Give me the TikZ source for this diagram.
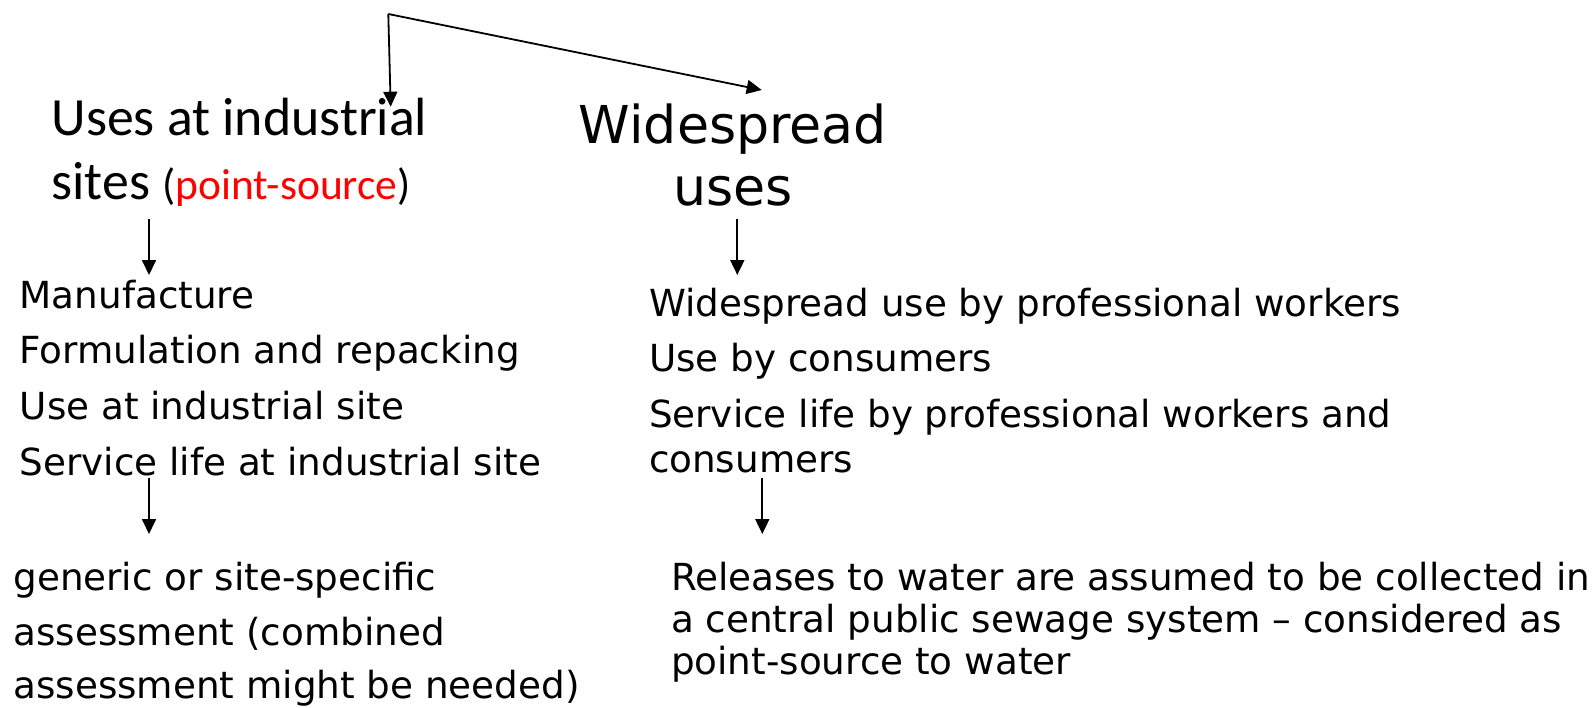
\documentclass[tikz,border=0pt]{standalone}
\usepackage{fontspec}
\setmainfont{DejaVu Sans}
\newfontfamily\calibfont{Carlito}
\usetikzlibrary{arrows.meta}
\definecolor{srcred}{RGB}{255,0,0}
\tikzset{
  txt/.style={anchor=base west, inner sep=0pt, outer sep=0pt, font=\fontsize{37.3}{46}\selectfont},
  headL/.style={anchor=base west, inner sep=0pt, outer sep=0pt, font=\calibfont\fontsize{53.8}{62}\selectfont},
  headR/.style={anchor=base, inner sep=0pt, outer sep=0pt, font=\fontsize{52.2}{59}\selectfont},
  arr/.style={line width=1.8pt, -{Triangle[length=15pt,width=14pt]}}
}
\begin{document}
\begin{tikzpicture}[x=1pt,y=-1pt]
\useasboundingbox (0,0) rectangle (1593,707);
% headings
\node[headL] (t1) at (51.5,135.5) {Uses at industrial};
\node[headL] (t2) at (51.5,199) {sites {\fontsize{43.5}{50}\selectfont(\textcolor{srcred}{point-source})}};
\node[headR] (w1) at (733,143.5) {Widespread};
\node[headR] (w2) at (733,205) {uses};
% left list
\node[txt] (l1) at (19.7,308.3) {Manufacture};
\node[txt] (l2) at (19.7,363.9) {Formulation and repacking};
\node[txt] (l3) at (19.7,419.5) {Use at industrial site};
\node[txt] (l4) at (19.7,475.1) {Service life at industrial site};
% right list
\node[txt] (r1) at (649,316.7) {Widespread use by professional workers};
\node[txt] (r2) at (649,371.9) {Use by consumers};
\node[txt] (r3) at (649,427) {Service life by professional workers and};
\node[txt] (r4) at (649,472.5) {consumers};
% bottom left
\node[txt] (bl1) at (13.4,590) {generic or site-specific};
\node[txt] (bl2) at (13.4,645) {assessment (combined};
\node[txt] (bl3) at (13.4,698) {assessment might be needed)};
% bottom right
\node[txt] (br1) at (671,590) {Releases to water are assumed to be collected in};
\node[txt] (br2) at (671,632) {a central public sewage system -- considered as};
\node[txt] (br3) at (671,674) {point-source to water};
% connector points
\coordinate (j) at (388.3,14);
\coordinate (tipA) at (390.7,106.7);
\coordinate (tipB) at (761.7,90);
\coordinate (d1s) at (149,219);
\coordinate (d1e) at (149,275);
\coordinate (d2s) at (737.3,219);
\coordinate (d2e) at (737.3,275);
\coordinate (d3s) at (149,478);
\coordinate (d3e) at (149,534);
\coordinate (d4s) at (762.3,478);
\coordinate (d4e) at (762.3,534);
\draw[arr] (j) -- (tipA);
\draw[arr] (j) -- (tipB);
\draw[arr] (d1s) -- (d1e);
\draw[arr] (d2s) -- (d2e);
\draw[arr] (d3s) -- (d3e);
\draw[arr] (d4s) -- (d4e);
\end{tikzpicture}
\end{document}
